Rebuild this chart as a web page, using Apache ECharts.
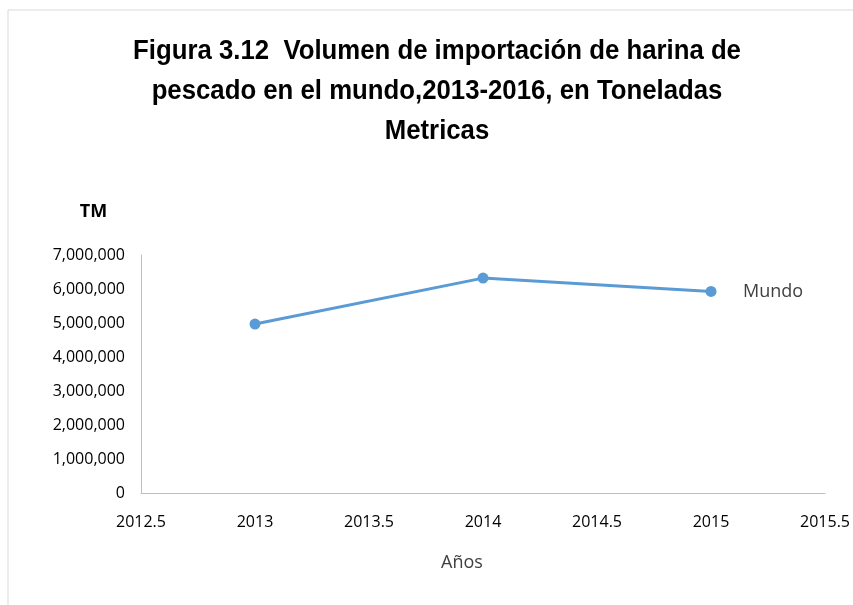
<!DOCTYPE html>
<html>
<head>
<meta charset="utf-8">
<script src="https://cdn.jsdelivr.net/npm/echarts@6/dist/echarts.min.js"></script>
<style>
html,body{margin:0;padding:0;background:#fff;}
#main{width:853px;height:605px;}
</style>
</head>
<body>
<div id="main"></div>
<script>
// datos
var years = [2013, 2014, 2015];
var mundo = [4970000, 6320000, 5930000];
var serieName = "Mundo";
var titleText = "Figura 3.12  Volumen de importación de harina de\npescado en el mundo,2013-2016, en Toneladas\nMetricas";

var points = [];
for (var i = 0; i < years.length; i++) {
	points.push([years[i], mundo[i]]);
}

var tickFont = "'Open Sans', sans-serif";

var myChart = echarts.init(document.getElementById("main"));
var option = {
	animation: false,
	backgroundColor: "#fff",
	graphic: [{
		type: "rect",
		shape: { x: 8, y: 10, width: 900, height: 700 },
		style: { fill: null, stroke: "#d9d9d9", lineWidth: 1 },
		silent: true
	}, {
		// titulo estrecho (Arial Narrow) -> Liberation Sans escalado
		type: "text",
		x: 437,
		y: 31,
		scaleX: 0.92,
		silent: true,
		style: {
			text: titleText,
			align: "center",
			verticalAlign: "top",
			fontFamily: "'Liberation Sans', Arial, sans-serif",
			fontWeight: "bold",
			fontSize: 28,
			lineHeight: 40,
			fill: "#000"
		}
	}],
	grid: { left: 141, right: 25, top: 255, bottom: 112 },
	xAxis: {
		type: "value",
		min: 2012.5,
		max: 2015.5,
		interval: 0.5,
		name: "Años",
		nameLocation: "middle",
		nameGap: 61,
		nameTextStyle: { fontFamily: tickFont, fontSize: 18, color: "#404040", padding: [0, 42, 0, 0] },
		axisLine: { show: true, lineStyle: { color: "#bfbfbf", width: 1 } },
		axisTick: { show: false },
		splitLine: { show: false },
		axisLabel: {
			margin: 21,
			fontFamily: tickFont,
			fontSize: 16,
			color: "#000",
			formatter: function (v) { return String(v); }
		}
	},
	yAxis: {
		type: "value",
		min: 0,
		max: 7000000,
		interval: 1000000,
		name: "TM",
		nameLocation: "end",
		nameGap: 34,
		nameTextStyle: { fontFamily: tickFont, fontWeight: "bold", fontSize: 18, color: "#000", padding: [0, 95, 0, 0] },
		axisLine: { show: true, lineStyle: { color: "#bfbfbf", width: 1 } },
		axisTick: { show: false },
		splitLine: { show: false },
		axisLabel: {
			margin: 16,
			fontFamily: tickFont,
			fontSize: 16,
			color: "#000",
			formatter: function (v) { return v.toLocaleString("en-US"); }
		}
	},
	series: [{
		name: serieName,
		type: "line",
		data: points,
		symbol: "circle",
		symbolSize: 11,
		lineStyle: { color: "#5b9bd5", width: 3 },
		itemStyle: { color: "#5b9bd5" },
		endLabel: {
			show: true,
			formatter: "{a}",
			distance: 32,
			fontFamily: tickFont,
			fontSize: 18,
			color: "#404040"
		}
	}]
};
myChart.setOption(option);
</script>
</body>
</html>
